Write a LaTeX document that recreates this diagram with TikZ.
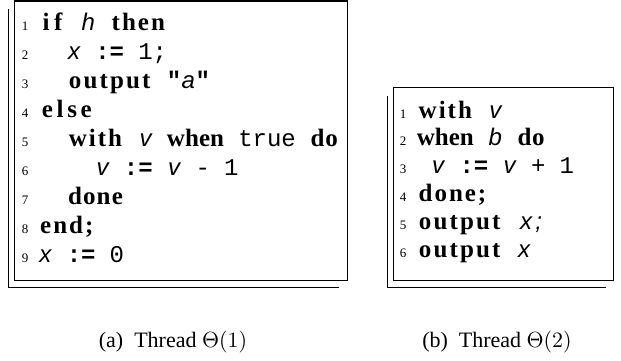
\documentclass[tikz,border=0pt]{standalone}
\usepackage{fontspec}
\setmainfont{Liberation Serif}
\newfontfamily\kwfamily{Liberation Serif}
\newfontfamily\idfamily{Liberation Sans}
\newfontfamily\nmfamily{Liberation Mono}

% listing fonts
\newcommand\kwfont{\kwfamily\bfseries\fontsize{12.5}{14}\selectfont}
\newcommand\idfont{\idfamily\itshape\fontsize{12}{14}\selectfont}
\newcommand\nmfont{\nmfamily\fontsize{12}{14}\selectfont}
\newcommand\opfont{\nmfamily\bfseries\fontsize{12}{14}\selectfont}

% fixed columns, letters spread in their cells
\newlength\cw \setlength\cw{7.15pt}
\newcount\nch
\def\countch#1{\ifx#1\relax\else\advance\nch by 1\relax\expandafter\countch\fi}
\def\spreadit#1{\ifx#1\relax\else#1\hss\expandafter\spreadit\fi}
\newcommand\fixed[2]{{#1\nch=0\relax\countch#2\relax\hbox to \nch\cw{\hss\spreadit#2\relax}}}
\newcommand\kw[1]{\fixed{\kwfont}{#1}}
\newcommand\id[1]{\fixed{\idfont}{#1}}
\newcommand\nm[1]{\fixed{\nmfont}{#1}}
\newcommand\op[1]{\fixed{\opfont}{#1}}
\newcommand\sk{\hbox to \cw{}}

\tikzset{
	codebox/.style={draw, line width=0.55pt, anchor=south west, inner sep=0pt},
	shadowline/.style={line width=0.5pt},
	codeline/.style={anchor=base west, inner sep=0pt},
	lnum/.style={anchor=base, inner sep=0pt, font=\fontsize{6.5}{8}\selectfont},
	capt/.style={anchor=base, inner sep=0pt, font=\fontsize{11}{13}\selectfont}
}

\begin{document}
\begin{tikzpicture}[x=0.5pt,y=0.5pt]
	\useasboundingbox (0,0) rectangle (621,360);
	
	%%%% Thread 1
	\node[codebox, minimum width=166.5pt, minimum height=139.75pt] (frameA) at (14,79) {};
	\draw[shadowline] ([xshift=-3pt,yshift=-4.5pt]frameA.north west) |- ([xshift=-4.5pt,yshift=-3pt]frameA.south east);
	\foreach \i in {1,...,9}
		\node[lnum] (na\i) at (25,{330-29*(\i-1)}) {\i};
	\node[codeline] (la1) at (37.85,330) {\kw{if}\sk\id{h}\sk\kw{then}};
	\node[codeline] (la2) at (37.85,301) {\sk\sk\id{x}\sk\op{:=}\sk\nm{1;}};
	\node[codeline] (la3) at (37.85,272) {\sk\sk\kw{output}\sk\op{"}\id{a}\op{"}};
	\node[codeline] (la4) at (37.85,243) {\kw{else}};
	\node[codeline] (la5) at (37.85,214) {\sk\sk\kw{with}\sk\id{v}\sk\kw{when}\sk\nm{true}\sk\kw{do}};
	\node[codeline] (la6) at (37.85,185) {\sk\sk\sk\sk\id{v}\sk\op{:=}\sk\id{v}\sk\nm{-}\sk\nm{1}};
	\node[codeline] (la7) at (37.85,156) {\sk\sk\kw{done}};
	\node[codeline] (la8) at (37.85,127) {\kw{end;}};
	\node[codeline] (la9) at (37.85,98) {\id{x}\sk\op{:=}\sk\nm{0}};
	\node[capt] (capA) at (173,13) {(a)\enskip Thread $\Theta(1)$};
	
	%%%% Thread 2
	\node[codebox, minimum width=110pt, minimum height=96.5pt] (frameB) at (393,79) {};
	\draw[shadowline] ([xshift=-3pt,yshift=-4.5pt]frameB.north west) |- ([xshift=-4pt,yshift=-3pt]frameB.south east);
	\foreach \i in {1,...,6}
		\node[lnum] (nb\i) at (403,{242-27.8*(\i-1)}) {\i};
	\node[codeline] (lb1) at (416.35,242) {\kw{with}\sk\id{v}};
	\node[codeline] (lb2) at (416.35,214.2) {\kw{when}\sk\id{b}\sk\kw{do}};
	\node[codeline] (lb3) at (416.35,186.4) {\sk\id{v}\sk\op{:=}\sk\id{v}\sk\nm{+}\sk\nm{1}};
	\node[codeline] (lb4) at (416.35,158.6) {\kw{done;}};
	\node[codeline] (lb5) at (416.35,130.8) {\kw{output}\sk\id{x;}};
	\node[codeline] (lb6) at (416.35,103) {\kw{output}\sk\id{x}};
	\node[capt] (capB) at (497,13) {(b)\enskip Thread $\Theta(2)$};

\end{tikzpicture}
\end{document}
